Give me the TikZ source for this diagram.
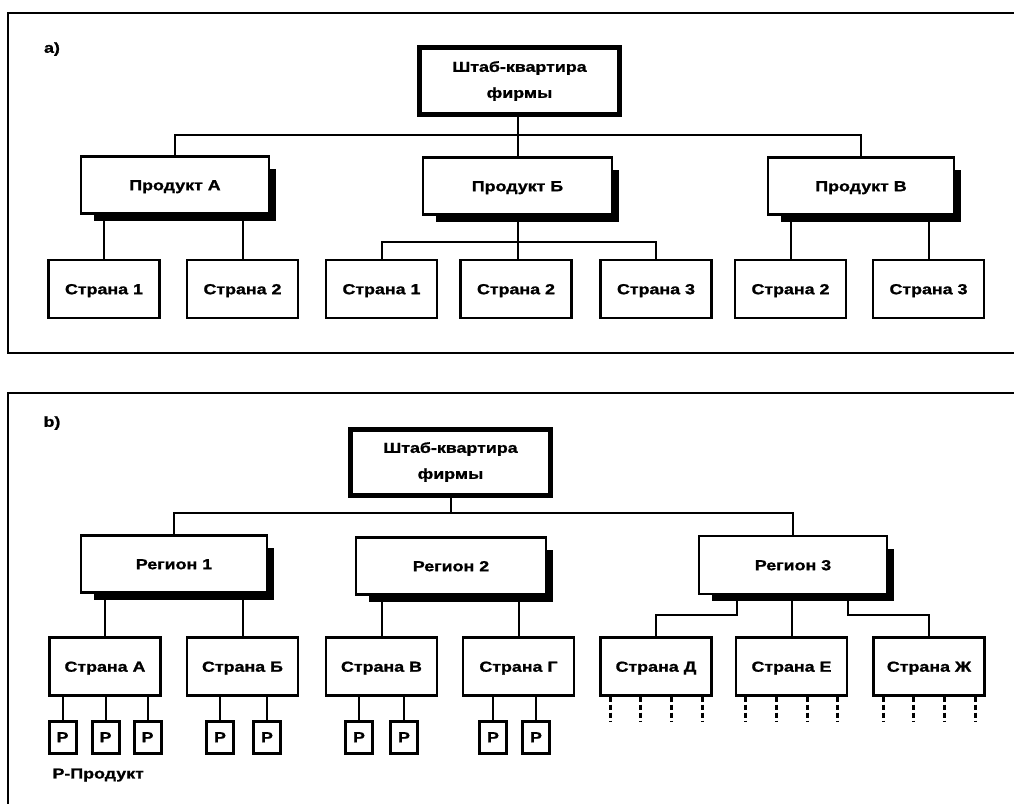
\documentclass[tikz,border=0pt]{standalone}
\usepackage{fontspec}
\newfontfamily\labfont{Liberation Sans}[FakeStretch=1.23, BoldFeatures={FakeBold=1.2}]
\usetikzlibrary{backgrounds}
\begin{document}
\begin{tikzpicture}[x=1pt,y=-1pt,
  lab/.style={font=\labfont\bfseries\fontsize{14.5}{26}\selectfont},
  unit/.style={lab, draw, fill=white, inner sep=0pt, align=center},
  oneline/.style={unit, text height=10.4pt, text depth=0pt},
  hq/.style={unit, line width=5pt, minimum width=200pt, minimum height=67pt},
  mid/.style={oneline, line width=2.2pt, minimum height=57pt},
  cty/.style={oneline, line width=2.2pt, minimum width=111pt, minimum height=58pt},
  prd/.style={oneline, line width=3pt, minimum width=27pt, minimum height=32pt},
  link/.style={line width=2pt},
  frame/.style={line width=2pt},
  stub/.style={line width=3pt, dash pattern=on 5pt off 3pt},
]
\useasboundingbox (0,0) rectangle (1014,804);

% ---------- panel a: product structure ----------
\draw[frame] (1014,13) -- (8,13) -- (8,353) -- (1014,353);
\node[lab] (la) at (52,49) {a)};

\node[hq] (hqa) at (519.5,81) {Штаб-квартира\\фирмы};
\node[mid, minimum width=188pt] (pa) at (175,185) {Продукт А};
\node[mid, minimum width=189pt] (pb) at (517.5,186) {Продукт Б};
\node[mid, minimum width=186pt] (pc) at (861,186) {Продукт В};

\node[cty] (a1) at (104,289) {Страна 1};
\node[cty] (a2) at (242.5,289) {Страна 2};
\node[cty] (b1) at (381.5,289) {Страна 1};
\node[cty] (b2) at (516,289) {Страна 2};
\node[cty] (b3) at (656,289) {Страна 3};
\node[cty] (c2) at (790.5,289) {Страна 2};
\node[cty] (c3) at (928.5,289) {Страна 3};

\coordinate (busa) at (517,135);
\coordinate (busb) at (517,242);
\draw[link] (pb.north) -- (pb.north |- hqa.south);
\draw[link] (pa.north) |- (busa) -| (pc.north);
\draw[link] (a1.north) -- (a1.north |- pa.south);
\draw[link] (a2.north) -- (a2.north |- pa.south);
\draw[link] (pb.south) -- (pb.south |- b2.north);
\draw[link] (b1.north) |- (busb) -| (b3.north);
\draw[link] (c2.north) -- (c2.north |- pc.south);
\draw[link] (c3.north) -- (c3.north |- pc.south);

% ---------- panel b: regional structure ----------
\draw[frame] (1014,393) -- (8,393) -- (8,804);
\node[lab] (lb) at (52,423) {b)};

\node[hq, minimum height=66pt] (hqb) at (450.5,462) {Штаб-квартира\\фирмы};
\node[mid, minimum width=186pt] (r1) at (174,564) {Регион 1};
\node[mid, minimum width=190pt] (r2) at (451,566) {Регион 2};
\node[mid, minimum width=188pt, minimum height=58pt] (r3) at (793,565) {Регион 3};

\node[cty] (sA) at (105,666.5) {Страна А};
\node[cty] (sB) at (242.5,666.5) {Страна Б};
\node[cty] (sV) at (381.5,666.5) {Страна В};
\node[cty] (sG) at (518.5,666.5) {Страна Г};
\node[cty] (sD) at (656,666.5) {Страна Д};
\node[cty] (sE) at (791.5,666.5) {Страна Е};
\node[cty] (sZ) at (929,666.5) {Страна Ж};

\coordinate (busc) at (450.5,513);
\draw[link] (hqb.south) -- (busc);
\draw[link] (r1.north) |- (busc) -| (r3.north);
\draw[link] (sA.north) -- (sA.north |- r1.south);
\draw[link] (sB.north) -- (sB.north |- r1.south);
\draw[link] (sV.north) -- (sV.north |- r2.south);
\draw[link] (sG.north) -- (sG.north |- r2.south);
\draw[link] ([xshift=-56pt]r3.south) -- ++(0,20) -| (sD.north);
\draw[link] (sE.north) -- (sE.north |- r3.south);
\draw[link] ([xshift=55pt]r3.south) -- ++(0,20) -| (sZ.north);

% products under each country
\foreach \nm/\cx/\up in {pA1/62.5/sA, pA2/105.5/sA, pA3/147.5/sA,
                        pB1/220/sB, pB2/267/sB,
                        pV1/359/sV, pV2/404/sV,
                        pG1/493/sG, pG2/536/sG}{
  \node[prd] (\nm) at (\cx,737) {Р};
  \draw[link] (\nm.north) -- (\nm.north |- \up.south);
}
\node[lab, anchor=west] (legend) at (49,775) {Р-Продукт};

% open-ended product links
\foreach \ct in {sD,sE,sZ}{
  \foreach \dx in {-46,-15.5,15.5,46}{
    \draw[stub] ([xshift=\dx pt]\ct.south) -- ++(0,25);
  }
}

% drop shadows of the middle-level units
\begin{scope}[on background layer]
  \foreach \n in {pa,pb,pc,r1,r2,r3}{
    \fill ([xshift=14pt,yshift=-6pt]\n.south west) rectangle ([xshift=6pt,yshift=-14pt]\n.north east);
  }
\end{scope}
\end{tikzpicture}
\end{document}
